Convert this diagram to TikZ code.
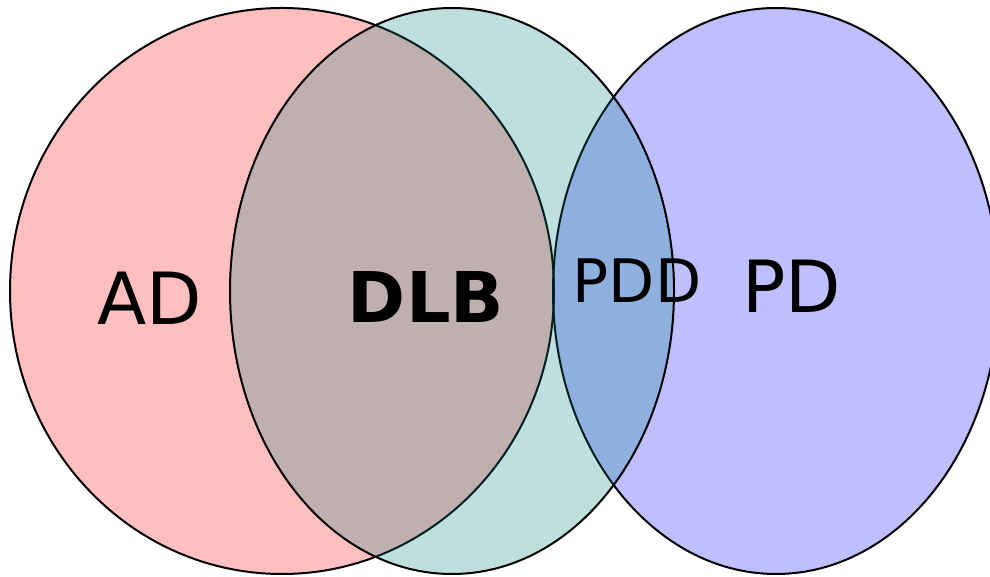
\documentclass[tikz,border=0pt]{standalone}
\usepackage{fontspec}
\setmainfont{DejaVu Sans}
\usepackage{tikz}
\definecolor{adred}{HTML}{FF0000}
\definecolor{dlbteal}{HTML}{008080}
\definecolor{pdblue}{HTML}{0000FF}
\tikzset{
    setfill/.style={draw=black, line width=2pt, fill opacity=0.25, draw opacity=1},
    setlabel/.style={anchor=base, inner sep=0pt, text=black}
}

\begin{document}
\begin{tikzpicture}[x=1pt, y=1pt]
            \useasboundingbox (0, 0) rectangle (990, 577);
            \fill[white] (0, 0) rectangle (990, 577);
            \draw[setfill, fill=adred] (282, 286) ellipse [x radius=272, y radius=283];
            \draw[setfill, fill=pdblue] (776, 286) ellipse [x radius=223, y radius=283];
            \draw[setfill, fill=dlbteal] (452, 286) ellipse [x radius=222, y radius=283];
            \node[setlabel, font=\fontsize{72}{78}\selectfont] (ad) at (150, 252) {AD};
            \node[setlabel, font=\fontsize{70}{76}\selectfont\bfseries] (dlb) at (426, 254) {DLB};
            \node[setlabel, font=\fontsize{60}{66}\selectfont] (pdd) at (637, 274) {PDD};
            \node[setlabel, font=\fontsize{72}{78}\selectfont] (pd) at (792, 264) {PD};
        \end{tikzpicture}
\end{document}
